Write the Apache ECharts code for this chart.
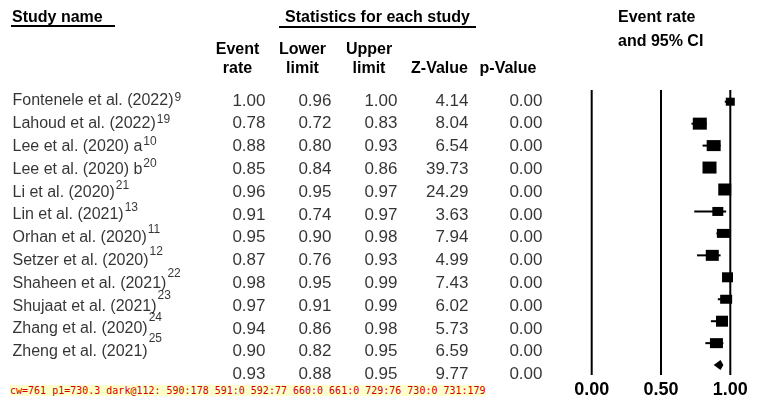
<!DOCTYPE html>
<html><head><meta charset="utf-8">
<script src="https://cdn.jsdelivr.net/npm/echarts@6/dist/echarts.min.js"></script>
<style>html,body{margin:0;padding:0;background:#fff}#c{width:761px;height:408px}</style>
</head><body><div id="c"></div>
<div id="dbg" style="position:absolute;left:10px;top:385px;font:10px monospace;color:#c00;background:#ffc"></div>
<script>
// ---------- data ----------
const studies = ['Fontenele et al. (2022)', 'Lahoud et al. (2022)', 'Lee et al. (2020) a', 'Lee et al. (2020) b',
  'Li et al. (2020)', 'Lin et al. (2021)', 'Orhan et al. (2020)', 'Setzer et al. (2020)',
  'Shaheen et al. (2021)', 'Shujaat et al. (2021)', 'Zhang et al. (2020)', 'Zheng et al. (2021)'];
const refs = ['9', '19', '10', '20', '21', '13', '11', '12', '22', '23', '24', '25'];
const eventRate = [1.00, 0.78, 0.88, 0.85, 0.96, 0.91, 0.95, 0.87, 0.98, 0.97, 0.94, 0.90];
const lowerLimit = [0.96, 0.72, 0.80, 0.84, 0.95, 0.74, 0.90, 0.76, 0.95, 0.91, 0.86, 0.82];
const upperLimit = [1.00, 0.83, 0.93, 0.86, 0.97, 0.97, 0.98, 0.93, 0.99, 0.99, 0.98, 0.95];
const zValue = [4.14, 8.04, 6.54, 39.73, 24.29, 3.63, 7.94, 4.99, 7.43, 6.02, 5.73, 6.59];
const pValue = [0.00, 0.00, 0.00, 0.00, 0.00, 0.00, 0.00, 0.00, 0.00, 0.00, 0.00, 0.00];
const pooledRate = 0.93, pooledLower = 0.88, pooledUpper = 0.95, pooledZ = 9.77, pooledP = 0.00;
const xTickValues = [0, 0.5, 1];
const xTicks = ['0.00', '0.50', '1.00'];
const headerTop = ['Event', 'Lower', 'Upper', '', ''];
const headerBottom = ['rate', 'limit', 'limit', 'Z-Value', 'p-Value'];

// ---------- layout / style ----------
const FONT = '"Liberation Sans", Arial, sans-serif';
const boxSize = [[9,8],[14,12],[14,11],[14,12],[13,12],[11,9],[13,9],[13,11],[11,10],[12,9],[12,11],[13,10]];
const colRight = [266, 332, 398, 469, 543];
const headCenter = [237.5, 302.5, 369, 439.5, 508];
const nameX = 12;
const Y_MIN = -0.533, Y_MAX = 12.451;

const cv = document.createElement('canvas').getContext('2d');
cv.font = '16px ' + FONT;
const nameWidth = s => cv.measureText(s).width;

const n = studies.length;
const colData = [
  eventRate.concat([pooledRate]), lowerLimit.concat([pooledLower]), upperLimit.concat([pooledUpper]),
  zValue.concat([pooledZ]), pValue.concat([pooledP])
];

const series = [];
series.push({
  type: 'scatter', xAxisIndex: 1, yAxisIndex: 1, symbolSize: 1, itemStyle: {color: 'transparent'},
  data: studies.map((s, i) => [nameX, i, s]),
  label: {show: true, position: 'right', distance: 0, color: '#000', fontFamily: FONT, fontSize: 16,
    formatter: p => p.value[2]}
});
colData.forEach((arr, c) => {
  series.push({
    type: 'scatter', xAxisIndex: 1, yAxisIndex: 1, symbolSize: 1, itemStyle: {color: 'transparent'},
    data: arr.map((v, i) => [colRight[c], i, v]),
    label: {show: true, position: 'left', distance: 0, color: '#000', fontFamily: FONT, fontSize: 17,
      formatter: p => p.value[2].toFixed(2)}
  });
});
series.push({
  type: 'scatter', xAxisIndex: 2, yAxisIndex: 2, symbolSize: 1, itemStyle: {color: 'transparent'},
  data: studies.map((s, i) => [nameX + nameWidth(s) + 1, i, refs[i]]),
  label: {show: true, position: 'right', distance: 0, offset: [0, -4], color: '#000', fontFamily: FONT, fontSize: 12,
    formatter: p => p.value[2]}
});
series.push({
  type: 'custom', xAxisIndex: 0, yAxisIndex: 0, clip: false, z: 5,
  data: eventRate.map((v, i) => [i, lowerLimit[i], v, upperLimit[i]]),
  encode: {x: [1, 2, 3], y: 0},
  renderItem: (params, api) => {
    const row = api.value(0);
    const lo = api.coord([api.value(1), row]);
    const hi = api.coord([api.value(3), row]);
    const c = api.coord([api.value(2), row]);
    const s = boxSize[params.dataIndex];
    return {type: 'group', children: [
      {type: 'line', shape: {x1: lo[0], y1: lo[1], x2: hi[0], y2: hi[1]}, style: {stroke: '#000', lineWidth: 2}},
      {type: 'rect', shape: {x: c[0] - s[0] / 2, y: c[1] - s[1] / 2, width: s[0], height: s[1]}, style: {fill: '#000'}}
    ]};
  }
});
series.push({
  type: 'custom', xAxisIndex: 0, yAxisIndex: 0, clip: false, z: 5,
  data: [[n, pooledLower, pooledRate, pooledUpper]],
  encode: {x: [1, 2, 3], y: 0},
  renderItem: (params, api) => {
    const row = api.value(0);
    const lo = api.coord([api.value(1), row]);
    const hi = api.coord([api.value(3), row]);
    const c = api.coord([api.value(2), row]);
    const h = 5;
    return {type: 'polygon', shape: {points: [[lo[0], lo[1]], [c[0], c[1] - h], [hi[0], hi[1]], [c[0], c[1] + h]]},
      style: {fill: '#000'}};
  }
});
series.push({
  type: 'custom', xAxisIndex: 0, yAxisIndex: 0, clip: false, z: 10,
  data: xTickValues.map(v => [v, Y_MIN]),
  encode: {x: 0, y: 1},
  renderItem: (params, api) => {
    const a = api.coord([api.value(0), Y_MIN]);
    const b = api.coord([api.value(0), Y_MAX]);
    return {type: 'line', shape: {x1: a[0], y1: a[1], x2: b[0], y2: b[1]}, style: {stroke: '#000', lineWidth: 2}};
  }
});

const hiddenAxis = (min, max, inverse) => ({type: 'value', min, max, inverse: !!inverse, show: false,
  splitLine: {show: false}, axisLine: {show: false}, axisTick: {show: false}, axisLabel: {show: false}});

const graphic = [
  {type: 'text', x: 12, y: 17.5, style: {text: 'Study name', font: 'bold 16px ' + FONT, fill: '#000', align: 'left', verticalAlign: 'middle'}},
  {type: 'line', shape: {x1: 11, y1: 26, x2: 115, y2: 26}, style: {stroke: '#000', lineWidth: 2}},
  {type: 'text', x: 377.5, y: 17.5, style: {text: 'Statistics for each study', font: 'bold 16px ' + FONT, fill: '#000', align: 'center', verticalAlign: 'middle'}},
  {type: 'line', shape: {x1: 279, y1: 27, x2: 476, y2: 27}, style: {stroke: '#000', lineWidth: 2}},
  {type: 'text', x: 618, y: 17.5, style: {text: 'Event rate', font: 'bold 16px ' + FONT, fill: '#000', align: 'left', verticalAlign: 'middle'}},
  {type: 'text', x: 618, y: 42, style: {text: 'and 95% CI', font: 'bold 16px ' + FONT, fill: '#000', align: 'left', verticalAlign: 'middle'}}
];
headerTop.forEach((t, c) => { if (t) graphic.push({type: 'text', x: headCenter[c], y: 50, style: {text: t, font: 'bold 16px ' + FONT, fill: '#000', align: 'center', verticalAlign: 'middle'}}); });
headerBottom.forEach((t, c) => graphic.push({type: 'text', x: headCenter[c], y: 69, style: {text: t, font: 'bold 16px ' + FONT, fill: '#000', align: 'center', verticalAlign: 'middle'}}));

const option = {
  animation: false,
  backgroundColor: '#fff',
  grid: [
    {left: 591.7, top: 90, width: 138.6, height: 285, containLabel: false},
    {left: 0, top: 78.2, width: 761, height: 319.2, containLabel: false},
    {left: 0, top: 90, width: 761, height: 285, containLabel: false}
  ],
  xAxis: [
    {type: 'value', gridIndex: 0, min: 0, max: 1, interval: 0.5,
      axisLine: {show: false}, axisTick: {show: false},
      splitLine: {show: false},
      axisLabel: {show: true, margin: 6, color: '#000', fontFamily: FONT, fontWeight: 'bold', fontSize: 18,
        formatter: (v) => xTicks[Math.round(v * 2)]}},
    Object.assign(hiddenAxis(0, 761), {gridIndex: 1}),
    Object.assign(hiddenAxis(0, 761), {gridIndex: 2})
  ],
  yAxis: [
    Object.assign(hiddenAxis(Y_MIN, Y_MAX, true), {gridIndex: 0}),
    Object.assign(hiddenAxis(-1, 13, true), {gridIndex: 1}),
    Object.assign(hiddenAxis(Y_MIN, Y_MAX, true), {gridIndex: 2})
  ],
  graphic,
  series
};
series.forEach(s => { s.silent = true; });
const chart = echarts.init(document.getElementById('c'), null, {renderer: 'canvas'});
chart.setOption(option);
// diagnostic: dark pixels along a row between study rows
try {
  const c = chart.getRenderedCanvas({pixelRatio: 1, backgroundColor: '#fff'});
  const ctx = c.getContext('2d');
  let s = '';
  for (let x = 585; x < 745; x++) { const d = ctx.getImageData(x, 112, 1, 1).data; if (d[0] < 200) s += x + ':' + d[0] + ' '; }
  const p = chart.convertToPixel({gridIndex: 0}, [1, 0]);
  document.getElementById('dbg').textContent = 'cw=' + c.width + ' p1=' + p[0].toFixed(1) + ' dark@112: ' + s;
} catch (e) { document.getElementById('dbg').textContent = 'err ' + e; }
</script>
</body></html>
